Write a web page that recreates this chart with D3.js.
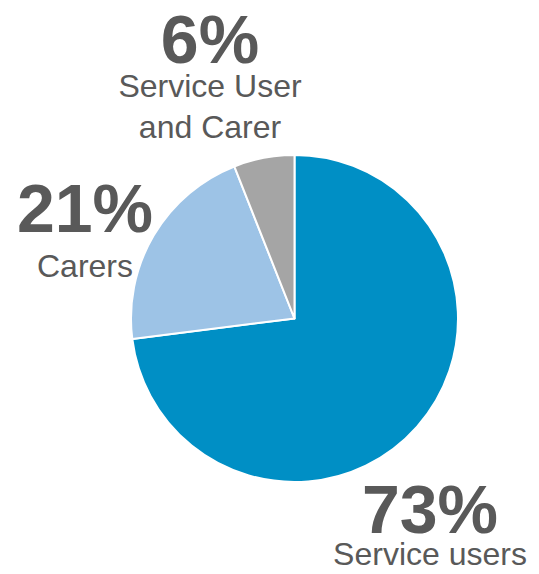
<!DOCTYPE html>
<html>
<head>
<meta charset="utf-8">
<script src="https://cdn.jsdelivr.net/npm/d3@7"></script>
<style>
  html, body { margin: 0; padding: 0; background: #ffffff; }
  svg { display: block; }
  text { font-family: "Liberation Sans", Arial, sans-serif; fill: #595959; }
</style>
</head>
<body>
<svg id="chart" width="539" height="574"></svg>
<script>
// Respondent groups and their shares (%)
const categories = ["Service users", "Carers", "Service User and Carer"];
const values = [73, 21, 6];
const labelLines = [["Service users"], ["Carers"], ["Service User", "and Carer"]];

// Presentation
const colors = ["#008FC5", "#9DC3E6", "#A5A5A5"];
const cx = 294.5, cy = 318.5, radius = 163.5;
// Anchor of each label block (x centre, baseline of the percentage)
const labelAnchors = [[430, 533], [85, 232], [210, 63]];
// Distance from the percentage baseline to the first caption line
const captionGap = [32, 45, 34];

const svg = d3.select("#chart");

const pie = d3.pie().sort(null).value(d => d.value);
const arc = d3.arc().innerRadius(0).outerRadius(radius);

const data = categories.map((c, i) => ({ category: c, value: values[i], lines: labelLines[i] }));
const arcs = pie(data);

const g = svg.append("g").attr("transform", `translate(${cx},${cy})`);
g.selectAll("path")
  .data(arcs)
  .join("path")
  .attr("d", arc)
  .attr("fill", (d, i) => colors[i])
  .attr("stroke", "#ffffff")
  .attr("stroke-width", 2)
  .attr("stroke-linejoin", "round");

const fmt = d3.format(".0f");
const labels = svg.selectAll("g.label")
  .data(arcs)
  .join("g")
  .attr("class", "label")
  .attr("transform", (d, i) => `translate(${labelAnchors[i][0]},${labelAnchors[i][1]})`);

labels.append("text")
  .attr("text-anchor", "middle")
  .attr("font-size", 68)
  .attr("font-weight", "bold")
  .text(d => fmt(d.data.value) + "%");

labels.each(function(d, i) {
  const sel = d3.select(this);
  d.data.lines.forEach((line, j) => {
    sel.append("text")
      .attr("text-anchor", "middle")
      .attr("font-size", 32)
      .attr("y", captionGap[i] + j * 41)
      .text(line);
  });
});
</script>
</body>
</html>
